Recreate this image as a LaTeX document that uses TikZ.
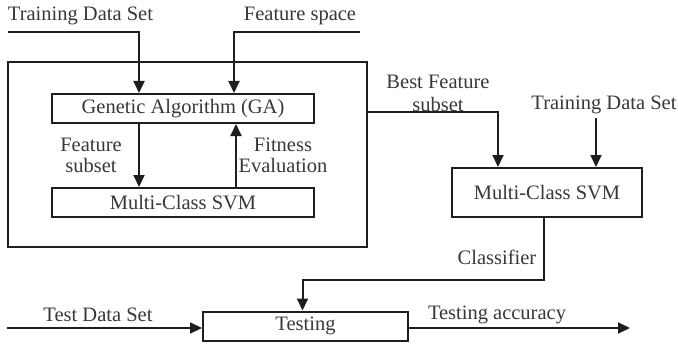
\documentclass[tikz,border=0pt]{standalone}
\usepackage{fontspec}
\setmainfont{Liberation Serif}
\usepackage{tikz}
\usetikzlibrary{positioning,arrows.meta,calc}
\definecolor{cLine}{HTML}{1E1E1E}
\definecolor{cText}{HTML}{383838}
\tikzset{
  ga/box/.style  ={draw=cLine, line width=2pt, inner sep=0pt, fill=white,
                   text=cText, minimum height=29pt},
  ga/outer/.style={draw=cLine, line width=2pt, inner sep=0pt,
                   minimum width=359pt, minimum height=185pt},
  ga/arr/.style  ={-{Triangle[length=12pt, width=11pt]}, line width=2pt, cLine},
  ga/line/.style ={line width=2pt, cLine},
  ga/lbl/.style  ={text=cText, inner sep=0pt, align=center}
}

\begin{document}
\begin{tikzpicture}[x=1pt, y=-1pt,
    every node/.style={font=\fontsize{20.5}{21}\selectfont}]
  \useasboundingbox (0,0) rectangle (678,345);

  % GA wrapper and its two inner blocks
  \node[ga/outer] (wrap) at (187.5,154.5) {};
  \node[ga/box, minimum width=262pt] (ga)   at (183,108.5) {Genetic Algorithm (GA)};
  \node[ga/box, minimum width=262pt] (svmA) at (183,202.5) {Multi-Class SVM};
  % final classifier and test stage
  \node[ga/box, minimum width=190pt, minimum height=49pt] (svmB) at (547,192.5) {Multi-Class SVM};
  \node[ga/box, minimum width=205pt] (test) at (305.5,326) {Testing};

  % free ends of the inputs / output
  \coordinate (trainIn) at (8,32);
  \coordinate (spaceIn) at (360,32);
  \coordinate (trainInB) at (596,118);
  \coordinate (testIn)  at (7,328);
  \coordinate (testOut) at (630,328);

  % labels
  \node[ga/lbl] (lTrain)   at (80.5,16)  {Training Data Set};
  \node[ga/lbl] (lSpace)   at (300,16)   {Feature space};
  \node[ga/lbl] (lSubset)  at (91,155)   {Feature\\subset};
  \node[ga/lbl] (lFit)     at (283,155)  {Fitness\\Evaluation};
  \node[ga/lbl, font=\fontsize{20.5}{23}\selectfont] (lBest) at (438,93) {Best Feature\\subset};
  \node[ga/lbl] (lTrainB)  at (604,105)  {Training Data Set};
  \node[ga/lbl] (lClass)   at (497,257)  {Classifier};
  \node[ga/lbl] (lTestIn)  at (98,315)   {Test Data Set};
  \node[ga/lbl] (lAcc)     at (497,315)  {Testing accuracy};

  % connectors
  \draw[ga/arr] (trainIn) -| ([xshift=-44pt]ga.north);
  \draw[ga/arr] (spaceIn) -| ([xshift=51pt]ga.north);
  \draw[ga/arr] ([xshift=-44pt]ga.south) -- ([xshift=-44pt]svmA.north);
  \draw[ga/arr] ([xshift=53pt]svmA.north) -- ([xshift=53pt]ga.south);
  \draw[ga/arr] ([yshift=42.5pt]wrap.east) -| ([xshift=-49pt]svmB.north);
  \draw[ga/arr] (trainInB) -- ([xshift=49pt]svmB.north);
  \draw[ga/arr] ([xshift=-3pt]svmB.south) -- ++(0,62) -| ([xshift=-3pt]test.north);
  \draw[ga/arr] (testIn) -- ([yshift=-2pt]test.west);
  \draw[ga/arr] ([yshift=-2pt]test.east) -- (testOut);
\end{tikzpicture}
\end{document}
